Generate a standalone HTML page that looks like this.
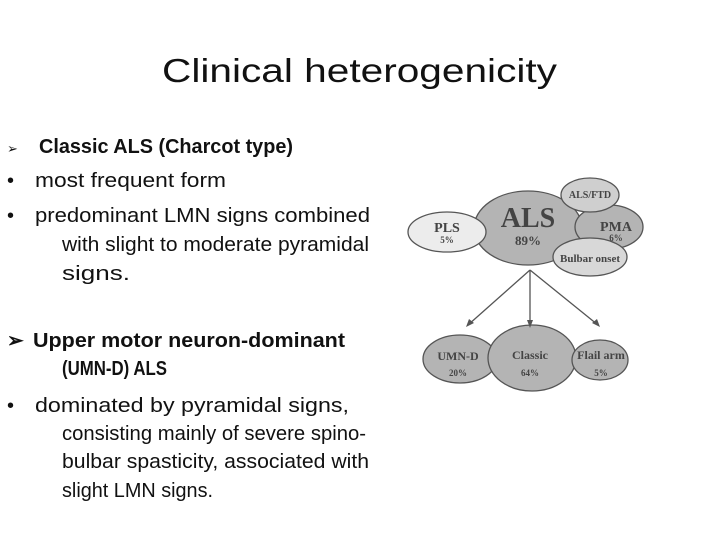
<!DOCTYPE html>
<html><head><meta charset="utf-8"><style>
html,body{margin:0;padding:0;background:#fff;width:720px;height:540px;overflow:hidden}
svg{display:block}
.t{font-family:"Liberation Sans",sans-serif;fill:#111}
.d{font-family:"Liberation Serif",serif;font-weight:bold;fill:#444;text-anchor:middle}
</style></head><body>
<svg width="720" height="540" viewBox="0 0 720 540">
<text class="t" x="162" y="82" font-size="33" textLength="395" lengthAdjust="spacingAndGlyphs">Clinical heterogenicity</text>

<text class="t" x="7" y="153" font-size="13">➢</text>
<text class="t" x="39" y="153" font-size="20" font-weight="bold" textLength="254" lengthAdjust="spacingAndGlyphs">Classic ALS (Charcot type)</text>
<text class="t" x="7" y="187" font-size="20">•</text>
<text class="t" x="35" y="187" font-size="20" textLength="191" lengthAdjust="spacingAndGlyphs">most frequent form</text>
<text class="t" x="7" y="222" font-size="20">•</text>
<text class="t" x="35" y="222" font-size="20" textLength="335" lengthAdjust="spacingAndGlyphs">predominant LMN signs combined</text>
<text class="t" x="62" y="251" font-size="20" textLength="307" lengthAdjust="spacingAndGlyphs">with slight to moderate pyramidal</text>
<text class="t" x="62" y="280" font-size="20" textLength="68" lengthAdjust="spacingAndGlyphs">signs.</text>

<text class="t" x="7" y="347" font-size="20" font-weight="bold">➢</text>
<text class="t" x="33" y="347" font-size="20" font-weight="bold" textLength="312" lengthAdjust="spacingAndGlyphs">Upper motor neuron-dominant</text>
<text class="t" x="62" y="375" font-size="20" font-weight="bold" textLength="105" lengthAdjust="spacingAndGlyphs">(UMN-D) ALS</text>
<text class="t" x="7" y="412" font-size="20">•</text>
<text class="t" x="35" y="412" font-size="20" textLength="314" lengthAdjust="spacingAndGlyphs">dominated by pyramidal signs,</text>
<text class="t" x="62" y="440" font-size="20" textLength="304" lengthAdjust="spacingAndGlyphs">consisting mainly of severe spino-</text>
<text class="t" x="62" y="468" font-size="20" textLength="307" lengthAdjust="spacingAndGlyphs">bulbar spasticity, associated with</text>
<text class="t" x="62" y="497" font-size="20" textLength="151" lengthAdjust="spacingAndGlyphs">slight LMN signs.</text>

<g stroke="#555" stroke-width="1.3">
<ellipse cx="528" cy="228" rx="54" ry="37" fill="#b4b4b4"/>
<ellipse cx="447" cy="232" rx="39" ry="20" fill="#ececec"/>
<ellipse cx="609" cy="227" rx="34" ry="22" fill="#b4b4b4"/>
<ellipse cx="590" cy="195" rx="29" ry="17" fill="#cfcfcf"/>
<ellipse cx="590" cy="257" rx="37" ry="19" fill="#d8d8d8"/>
<ellipse cx="460" cy="359" rx="37" ry="24" fill="#b4b4b4"/>
<ellipse cx="532" cy="358" rx="44" ry="33" fill="#b4b4b4"/>
<ellipse cx="600" cy="360" rx="28" ry="20" fill="#b4b4b4"/>
<line x1="530" y1="270" x2="468" y2="325"/>
<line x1="530" y1="270" x2="530" y2="325"/>
<line x1="530" y1="270" x2="598" y2="325"/>
</g>
<g fill="#555">
<polygon points="466,327 469,319 474,323"/>
<polygon points="530,328 527,320 533,320"/>
<polygon points="600,327 592,323 597,319"/>
</g>
<text class="d" x="528" y="227" font-size="28">ALS</text>
<text class="d" x="528" y="245" font-size="13">89%</text>
<text class="d" x="447" y="232" font-size="14">PLS</text>
<text class="d" x="447" y="243" font-size="9">5%</text>
<text class="d" x="590" y="198" font-size="10">ALS/FTD</text>
<text class="d" x="616" y="231" font-size="14">PMA</text>
<text class="d" x="616" y="241" font-size="9">6%</text>
<text class="d" x="590" y="262" font-size="11">Bulbar onset</text>
<text class="d" x="458" y="360" font-size="12">UMN-D</text>
<text class="d" x="458" y="376" font-size="9">20%</text>
<text class="d" x="530" y="359" font-size="12">Classic</text>
<text class="d" x="530" y="376" font-size="9">64%</text>
<text class="d" x="601" y="359" font-size="12">Flail arm</text>
<text class="d" x="601" y="376" font-size="9">5%</text>
</svg>
</body></html>
